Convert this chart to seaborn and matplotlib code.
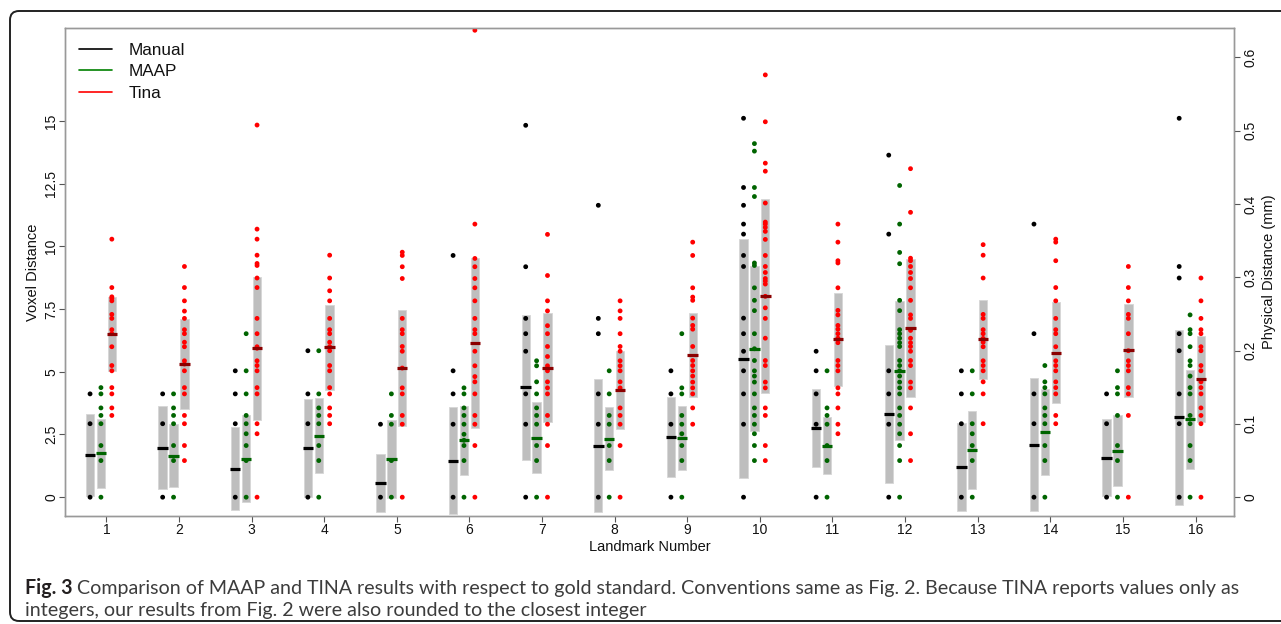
import matplotlib
matplotlib.use("Agg")
import matplotlib.pyplot as plt
import matplotlib.transforms as mtransforms
from matplotlib.patches import FancyBboxPatch
from matplotlib.lines import Line2D
import numpy as np
import pandas as pd
import seaborn as sns

# ---------------- data (voxel distances) ----------------
landmarks = list(range(1, 17))
methods = ["Manual", "MAAP", "Tina"]

manual_pts = [
    [0, 2.93, 4.12],
    [0, 2.93, 4.12],
    [0, 2.93, 4.12, 5.04],
    [0, 2.93, 4.12, 5.84],
    [0, 2.91],
    [0, 2.91, 4.12, 5.04, 9.64],
    [0, 2.91, 4.12, 5.82, 6.52, 7.13, 9.19, 14.83],
    [0, 2.91, 4.12, 6.52, 7.13, 11.64],
    [0, 2.91, 4.12, 5.04],
    [0, 2.91, 4.12, 5.04, 5.82, 6.52, 7.14, 9.20, 9.64, 10.49, 10.89, 11.64, 12.35, 15.11],
    [0, 2.91, 4.12, 5.04, 5.82],
    [0, 2.91, 4.12, 5.04, 10.49, 13.64],
    [0, 2.93, 4.12, 5.04],
    [0, 2.93, 4.12, 6.52, 10.89],
    [0, 2.93, 4.12],
    [0, 2.93, 4.12, 5.84, 6.52, 8.74, 9.20, 15.11],
]
maap_pts = [
    [0, 1.46, 2.06, 2.93, 3.26, 3.56, 4.12, 4.37],
    [0, 1.46, 2.06, 2.93, 3.26, 3.56, 4.12],
    [0, 1.46, 2.06, 2.53, 2.93, 3.26, 4.12, 5.04, 6.52],
    [0, 1.46, 2.06, 2.93, 3.26, 3.56, 4.12, 5.84],
    [0, 1.46, 2.91, 3.26, 4.12],
    [0, 1.46, 2.06, 2.27, 2.51, 2.91, 3.26, 3.56, 4.12, 4.36],
    [0, 1.46, 2.06, 2.91, 3.26, 3.56, 4.12, 4.60, 5.24, 5.44],
    [0, 1.46, 2.06, 2.91, 3.26, 4.12, 5.04],
    [0, 1.46, 2.06, 2.53, 2.91, 3.26, 4.12, 4.36, 6.52],
    [1.46, 2.06, 2.53, 2.91, 3.26, 3.56, 4.12, 4.59, 4.83, 5.04, 5.45, 5.92, 6.52,
     7.44, 7.85, 8.35, 9.24, 9.34, 11.99, 12.35, 13.80, 14.10],
    [0, 1.46, 2.06, 2.91, 3.26, 3.56, 5.04],
    [0, 1.46, 2.06, 2.53, 2.91, 3.26, 3.56, 4.12, 4.36, 4.59, 4.83, 5.04, 5.25, 5.45,
     6.01, 6.16, 6.34, 6.52, 6.68, 7.44, 7.85, 9.31, 9.76, 10.89, 12.43],
    [0, 1.46, 2.06, 2.53, 2.93, 4.12, 5.04],
    [0, 1.46, 2.06, 2.93, 3.26, 3.56, 4.12, 4.37, 4.60, 5.25],
    [0, 1.46, 2.06, 3.26, 4.12, 4.37, 5.04],
    [0, 1.46, 2.06, 2.93, 3.26, 4.12, 4.37, 4.83, 5.25, 5.44, 6.00, 6.52, 6.68, 7.27],
]
tina_pts = [
    [3.26, 3.56, 4.12, 4.37, 5.04, 5.25, 6.00, 6.52, 6.68, 7.13, 7.29, 7.83, 7.93, 7.99, 8.36, 10.29],
    [1.46, 2.06, 2.93, 3.26, 4.12, 4.37, 5.04, 5.31, 5.44, 6.00, 6.18, 6.52, 6.68, 7.13, 7.42, 7.83, 8.36, 9.20],
    [0, 2.53, 2.93, 4.12, 4.37, 5.04, 5.25, 5.44, 5.94, 6.00, 6.52, 7.13, 8.36, 8.74, 9.24, 9.32, 9.65, 10.29, 10.69, 14.84],
    [2.93, 3.26, 3.56, 4.12, 4.37, 5.04, 5.25, 5.84, 6.00, 6.18, 6.52, 6.68, 7.13, 7.83, 8.23, 8.74, 9.65],
    [0, 2.91, 3.26, 4.12, 4.36, 5.15, 5.82, 6.01, 6.52, 6.68, 7.13, 8.72, 9.19, 9.64, 9.77],
    [0, 2.06, 2.91, 3.26, 4.12, 4.60, 4.81, 5.24, 5.82, 6.52, 6.68, 7.13, 7.83, 8.35, 8.72, 9.19, 9.52, 10.89, 18.62],
    [0, 2.06, 2.91, 3.26, 4.12, 4.36, 4.60, 5.04, 5.24, 5.61, 6.01, 6.52, 6.84, 7.43, 7.83, 8.84, 10.48],
    [0, 2.06, 2.91, 3.26, 3.56, 4.36, 4.60, 5.04, 5.24, 5.44, 5.82, 6.01, 6.52, 7.13, 7.43, 7.83],
    [2.91, 3.56, 4.12, 4.36, 4.59, 4.83, 5.04, 5.25, 5.45, 6.01, 6.70, 6.85, 7.14, 7.85, 7.98, 8.35, 9.64, 10.17],
    [1.46, 2.06, 3.26, 3.56, 4.36, 4.59, 5.25, 5.45, 6.34, 7.13, 7.55, 8.01, 8.50, 8.62, 8.72, 8.96, 9.20,
     9.64, 10.28, 10.60, 10.76, 10.89, 10.97, 11.73, 13.00, 13.32, 14.97, 16.84],
    [2.53, 2.91, 3.56, 4.12, 4.36, 5.04, 5.25, 5.45, 6.16, 6.34, 6.52, 6.70, 6.85, 7.27, 7.45, 8.35, 9.34, 9.43, 10.17, 10.89],
    [1.46, 2.53, 3.56, 4.36, 4.59, 5.25, 5.45, 5.82, 6.01, 6.16, 6.34, 6.65, 7.13, 7.27, 7.85, 8.35, 8.72, 8.96,
     9.20, 9.43, 9.53, 11.36, 13.10],
    [2.93, 4.12, 4.60, 5.04, 5.25, 5.44, 6.00, 6.18, 6.33, 6.52, 6.68, 7.13, 7.29, 8.74, 9.65, 10.07],
    [2.93, 3.26, 4.12, 4.37, 4.60, 5.04, 5.25, 5.44, 6.00, 6.52, 6.68, 7.13, 7.83, 8.36, 9.43, 10.17, 10.29],
    [0, 3.26, 4.12, 4.37, 5.04, 5.25, 5.44, 5.84, 6.52, 7.13, 7.29, 7.83, 8.36, 9.20],
    [0, 2.93, 3.26, 3.56, 4.12, 4.37, 4.60, 5.04, 5.25, 5.84, 6.00, 6.52, 6.68, 7.13, 7.83, 8.74],
]

manual_mean = [1.67, 1.98, 1.14, 1.95, 0.57, 1.45, 4.38, 2.05, 2.39, 5.52, 2.75, 3.31, 1.20, 2.10, 1.58, 3.18]
manual_sd   = [1.64, 1.66, 1.66, 1.95, 1.165, 2.14, 2.885, 2.645, 1.595, 4.77, 1.55, 2.75, 1.76, 2.655, 1.53, 3.495]
maap_mean   = [1.76, 1.65, 1.53, 2.46, 1.52, 2.27, 2.37, 2.33, 2.37, 5.92, 2.06, 5.05, 1.88, 2.61, 1.86, 3.10]
maap_sd     = [1.375, 1.26, 1.735, 1.50, 1.545, 1.37, 1.41, 1.265, 1.285, 3.28, 1.14, 2.77, 1.545, 1.71, 1.425, 1.98]
tina_mean   = [6.52, 5.31, 5.93, 5.97, 5.15, 6.14, 5.17, 4.27, 5.68, 8.01, 6.30, 6.74, 6.29, 5.76, 5.85, 4.73]
tina_sd     = [1.475, 1.785, 2.85, 1.71, 2.30, 3.385, 2.185, 1.565, 1.68, 3.87, 1.85, 2.745, 1.565, 2.015, 1.855, 1.715]

voxel_mm = 0.0342  # mm per voxel (right axis scale)

voxel_ticks = [0, 2.5, 5, 7.5, 10, 12.5, 15]
voxel_ticklabels = ["0", "2.5", "5", "7.5", "10", "12.5", "15"]
mm_ticks = [0, 0.1, 0.2, 0.3, 0.4, 0.5, 0.6]
mm_ticklabels = ["0", "0.1", "0.2", "0.3", "0.4", "0.5", "0.6"]

caption_bold = "Fig. 3"
caption_line1 = (" Comparison of MAAP and TINA results with respect to gold standard. "
                 "Conventions same as Fig. 2. Because TINA reports values only as")
caption_line2 = "integers, our results from Fig. 2 were also rounded to the closest integer"

# ---------------- styling ----------------
sns.set_theme(style="white")
plt.rcParams["font.family"] = ["Liberation Sans", "DejaVu Sans"]

W, H = 1281, 624
fig = plt.figure(figsize=(W / 100, H / 100), dpi=100)
fig.patch.set_facecolor("white")

ax_l, ax_r, ax_t, ax_b = 65, 1234, 28, 516
ax = fig.add_axes([ax_l / W, 1 - ax_b / H, (ax_r - ax_l) / W, (ax_b - ax_t) / H])
ax.set_facecolor("white")

offsets = {"Manual": -0.225, "MAAP": -0.075, "Tina": 0.075}
dot_colors = {"Manual": "#000000", "MAAP": "#006400", "Tina": "#ff0000"}
mean_colors = {"Manual": "#000000", "MAAP": "#006400", "Tina": "#8b0000"}
legend_colors = {"Manual": "#000000", "MAAP": "#008000", "Tina": "#ff0000"}

pts = {"Manual": manual_pts, "MAAP": maap_pts, "Tina": tina_pts}
means = {"Manual": manual_mean, "MAAP": maap_mean, "Tina": tina_mean}
sds = {"Manual": manual_sd, "MAAP": maap_sd, "Tina": tina_sd}

rows = []
for m in methods:
    for lm, vals in zip(landmarks, pts[m]):
        for v in vals:
            rows.append({"x": lm + offsets[m], "value": v, "method": m})
df = pd.DataFrame(rows)

lm_arr = np.array(landmarks, dtype=float)
bar_w = 0.115
for m in methods:
    mu = np.array(means[m])
    sd = np.array(sds[m])
    ax.bar(lm_arr + offsets[m], 2 * sd, bottom=mu - sd, width=bar_w,
           color="#bebebe", edgecolor="#d6d6d6", linewidth=0.6, zorder=1)

sns.scatterplot(data=df, x="x", y="value", hue="method", palette=dot_colors,
                hue_order=methods, s=12, linewidth=0, legend=False, ax=ax, zorder=3)

for m in methods:
    mu = np.array(means[m])
    ax.hlines(mu, lm_arr + offsets[m] - 0.072, lm_arr + offsets[m] + 0.072,
              colors=mean_colors[m], linewidth=2.3, zorder=4)

ylo, yhi = -0.75, 18.71
ax.set_xlim(0.43, 16.53)
ax.set_ylim(ylo, yhi)
ax.set_xticks(landmarks)
ax.set_xticklabels([str(i) for i in landmarks], fontsize=10, color="#111111")
ax.set_yticks(voxel_ticks)
ax.set_yticklabels(voxel_ticklabels, fontsize=10, color="#111111", rotation=90, va="center")
ax.tick_params(axis="both", direction="out", length=4, width=0.8, color="#555555", pad=1)
ax.tick_params(left=True, bottom=True)
ax.set_xlabel("Landmark Number", fontsize=10.5, color="#111111", labelpad=2)
ax.set_ylabel("Voxel Distance", fontsize=10.5, color="#111111", labelpad=3)
for sp in ax.spines.values():
    sp.set_color("#999999")
    sp.set_linewidth(1.0)
    sp.set_visible(True)

ax2 = ax.twinx()
ax2.set_ylim(ylo * voxel_mm, yhi * voxel_mm)
ax2.set_yticks(mm_ticks)
ax2.set_yticklabels(mm_ticklabels, fontsize=10, color="#111111", rotation=90, va="center")
ax2.tick_params(axis="y", direction="out", length=4, width=0.8, color="#555555", pad=3, right=True)
ax2.set_ylabel("Physical Distance (mm)", fontsize=10.5, color="#111111", rotation=90, labelpad=3)
ax2.grid(False)
ax.grid(False)
for sp in ax2.spines.values():
    sp.set_color("#999999")
    sp.set_linewidth(1.0)

handles = [Line2D([0], [0], color=legend_colors[m], lw=1.2) for m in methods]
leg = ax.legend(handles, methods, loc="upper left", bbox_to_anchor=(0.012, 0.970),
                frameon=False, fontsize=12.3, handlelength=1.95, handletextpad=0.95,
                borderpad=0, borderaxespad=0, labelspacing=0.40)
for t in leg.get_texts():
    t.set_color("#111111")

# rounded border around the figure panel
border = FancyBboxPatch((10, 3), 1290, 610, boxstyle="round,pad=0,rounding_size=9",
                        transform=mtransforms.IdentityTransform(), fill=False,
                        edgecolor="#222222", linewidth=1.4, figure=fig)
fig.patches.append(border)

# caption
cap_font = ["Lato", "DejaVu Sans"]
cap_color = "#231f20"
cap_color_light = "#3c3c3c"
x0 = 25 / W
y1 = 1 - 594 / H
y2 = 1 - 616 / H
target_w = 1215.0  # pixel width of first caption line in the reference


def draw_caption(size):
    tb = fig.text(x0, y1, caption_bold, fontsize=size, fontweight="bold", family=cap_font,
                  color=cap_color, va="baseline", ha="left")
    fig.canvas.draw()
    r = fig.canvas.get_renderer()
    bb = tb.get_window_extent(renderer=r)
    t1 = fig.text(bb.x1 / W, y1, caption_line1, fontsize=size, family=cap_font,
                  fontweight="normal", color=cap_color_light, va="baseline", ha="left")
    t2 = fig.text(x0, y2, caption_line2, fontsize=size, family=cap_font,
                  fontweight="normal", color=cap_color_light, va="baseline", ha="left")
    fig.canvas.draw()
    w = t1.get_window_extent(renderer=r).x1 - bb.x0
    return [tb, t1, t2], w


size0 = 14.0
texts, w = draw_caption(size0)
for t in texts:
    t.remove()
draw_caption(size0 * target_w / w)

fig.savefig("out.png", dpi=100)
